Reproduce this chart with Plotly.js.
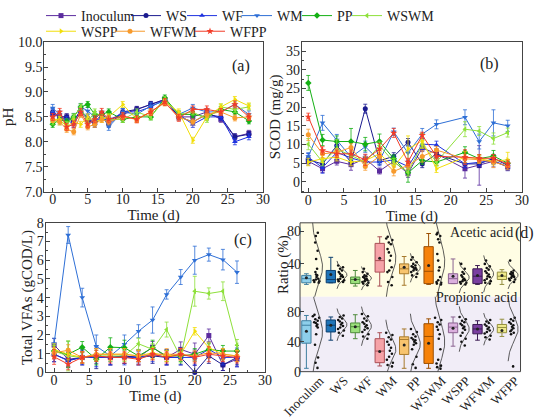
<!DOCTYPE html>
<html><head><meta charset="utf-8">
<script src="https://cdn.plot.ly/plotly-3.0.1.min.js"></script>
<style>html,body{margin:0;padding:0;background:#fff}#chart{width:550px;height:419px}</style>
</head><body><div id="chart"></div>
<script>
const seriesNames = ['Inoculum','WS','WF','WM','PP','WSWM','WSPP','WFWM','WFPP'];
const seriesColors = ['#5B2C9E','#1B1B8F','#1E32E0','#2E6FD6','#14B014','#8EE03A','#F2DE0A','#F79A2C','#F23C28'];
const seriesSymbols = ['square','circle','triangle-up','triangle-down','diamond','triangle-left','triangle-right','circle','star'];

// (a) pH
const phTime = [0,1,2,3,4,5,6,7,8,10,12,14,16,18,20,22,24,26,28];
const phInoculum = [8.55,8.5,8.5,8.45,8.6,8.45,8.4,8.55,8.45,8.55,8.65,8.75,8.85,8.5,8.5,8.6,8.45,8.1,8.17];
const phWS       = [8.6,8.5,8.5,8.4,8.65,8.45,8.35,8.5,8.35,8.6,8.65,8.75,8.85,8.5,8.4,8.55,8.5,8.1,8.15];
const phWF       = [8.6,8.5,8.45,8.35,8.6,8.5,8.4,8.5,8.4,8.6,8.6,8.7,8.85,8.55,8.35,8.5,8.5,8.0,8.1];
const phWM       = [8.68,8.55,8.4,8.5,8.7,8.62,8.5,8.55,8.3,8.6,8.55,8.72,8.82,8.55,8.68,8.6,8.6,8.75,8.55];
const phPP       = [8.35,8.45,8.4,8.5,8.7,8.75,8.55,8.55,8.6,8.45,8.5,8.5,8.88,8.55,8.55,8.5,8.65,8.6,8.42];
const phWSWM     = [8.4,8.4,8.35,8.5,8.7,8.4,8.6,8.5,8.45,8.45,8.6,8.5,8.85,8.55,8.6,8.45,8.7,8.65,8.7];
const phWSPP     = [8.45,8.45,8.3,8.4,8.35,8.5,8.4,8.45,8.5,8.75,8.45,8.6,8.8,8.6,8.03,8.5,8.7,8.85,8.72];
const phWFWM     = [8.45,8.4,8.25,8.2,8.55,8.3,8.35,8.45,8.4,8.5,8.45,8.6,8.78,8.5,8.4,8.55,8.6,8.48,8.5];
const phWFPP     = [8.5,8.6,8.3,8.35,8.6,8.35,8.45,8.6,8.45,8.52,8.45,8.6,8.8,8.48,8.65,8.65,8.6,8.75,8.5];
const phErr      = [0.06,0.06,0.06,0.07,0.06,0.06,0.06,0.06,0.07];

// (b) SCOD
const scodTime = [0,2,4,6,8,10,12,14,16,18,22,24,26,28];
const scodInoculum = [5.5,3.5,5.5,4.6,6.2,2.9,5.5,2.2,9.1,7.5,3.5,4.4,5.5,4.0];
const scodWS       = [5.9,4.8,9.7,5.3,19.6,5.7,6.8,10.6,4.8,7.5,4.8,4.8,6.3,4.4];
const scodWF       = [6.6,3.8,7.9,6.4,5.3,5.3,5.9,4.1,10.1,9.9,4.8,5.3,5.7,4.0];
const scodWM       = [6.8,15.8,11.2,6.6,9.4,5.7,13.4,7.7,12.8,15.4,17.3,10.8,15.8,15.0];
const scodPP       = [26.5,11.2,10.8,10.8,10.1,10.8,6.2,2.4,5.7,5.3,7.9,6.2,6.9,5.0];
const scodWSWM     = [10.1,5.3,8.8,7.0,5.3,9.7,5.3,2.6,10.1,5.3,14.1,13.6,11.6,13.2];
const scodWSPP     = [5.3,6.2,6.6,5.3,5.7,7.5,4.0,8.8,11.0,3.5,6.6,6.2,5.5,5.9];
const scodWFWM     = [12.6,7.5,7.9,9.2,4.1,6.8,2.8,4.4,6.8,8.5,6.2,5.9,5.3,4.2];
const scodWFPP     = [17.4,8.4,7.5,7.5,5.9,8.8,13.1,5.3,12.5,6.8,6.6,6.3,6.3,4.8];
const scodErrInoculum = [1.0,1.0,1.0,1.5,1.0,0.8,1.0,1.0,1.0,1.0,2.5,5.3,1.5,1.0];
const scodErrWS       = [1.0,1.0,1.0,1.0,1.2,1.0,1.0,1.0,1.0,1.0,1.0,1.0,1.0,1.0];
const scodErrWF       = [1.0,1.5,1.0,1.0,1.0,1.0,1.0,1.0,1.5,1.0,1.0,1.0,1.0,1.0];
const scodErrWM       = [1.0,2.0,1.5,1.0,1.5,1.0,1.0,2.0,1.5,1.2,2.0,2.0,3.5,1.5];
const scodErrPP       = [2.0,1.5,1.5,3.5,1.8,2.0,1.0,2.5,1.0,1.0,1.5,1.0,1.5,1.0];
const scodErrWSWM     = [1.5,1.0,2.5,1.0,1.0,1.0,1.0,1.0,1.0,1.0,2.0,1.2,1.5,1.2];
const scodErrWSPP     = [1.0,1.0,1.0,1.0,1.0,1.0,1.0,3.5,2.0,1.0,1.5,1.0,1.0,2.0];
const scodErrWFWM     = [1.5,1.0,1.0,1.0,1.0,1.0,1.2,1.0,1.5,1.0,1.0,1.0,1.5,1.0];
const scodErrWFPP     = [1.0,1.0,1.0,1.0,1.5,1.5,1.2,1.0,0.8,1.0,2.0,1.0,1.0,1.0];

// (c) Total VFAs
const vfaTime = [0,2,4,6,8,10,12,14,16,18,20,22,24,26];
const vfaInoculum = [1.46,0.7,0.8,0.88,0.8,0.88,0.8,1.35,0.8,1.23,0.97,1.97,0.4,0.7];
const vfaWS       = [0.97,0.65,0.8,0.8,0.8,0.88,0.8,0.88,0.8,0.8,0.0,0.88,0.4,0.8];
const vfaWF       = [0.97,0.62,0.8,0.8,0.8,0.8,0.8,0.97,0.8,0.8,0.8,1.23,0.8,0.8];
const vfaWM       = [1.53,7.35,4.0,1.4,0.88,1.5,2.2,2.8,4.17,5.1,6.0,6.3,6.03,5.36];
const vfaPP       = [1.14,0.97,1.35,0.7,1.35,1.32,0.88,1.32,0.88,0.88,0.97,1.23,1.14,1.14];
const vfaWSWM     = [1.14,0.88,0.8,0.88,0.88,0.88,1.53,1.23,2.29,0.8,4.34,4.22,4.34,1.46];
const vfaWSPP     = [1.23,0.97,0.8,0.97,0.97,0.97,0.88,1.05,0.88,0.97,2.2,1.32,0.97,0.88];
const vfaWFWM     = [1.05,1.18,0.8,0.97,0.97,0.97,0.88,0.97,0.97,0.97,0.88,1.05,0.97,0.88];
const vfaWFPP     = [0.83,0.44,0.8,0.88,0.8,0.8,0.7,0.97,0.8,0.97,0.8,0.97,0.88,0.8];
const vfaErrInoculum = [0.35,0.3,0.3,0.4,0.4,0.4,0.3,0.3,0.4,0.4,0.6,0.35,0.3,0.4];
const vfaErrWS       = [0.4,0.4,0.4,0.6,0.4,0.4,0.4,0.4,0.4,0.4,0.6,0.4,0.3,0.4];
const vfaErrWF       = [0.4,0.3,0.4,0.5,0.4,0.4,0.4,0.4,0.4,0.4,0.4,0.4,0.4,0.5];
const vfaErrWM       = [0.3,0.45,0.5,0.6,0.3,0.5,0.35,0.7,0.25,0.4,0.75,0.35,0.55,0.6];
const vfaErrPP       = [0.3,0.7,0.3,0.3,0.5,0.4,0.3,0.4,0.3,0.3,0.3,0.3,0.3,0.3];
const vfaErrWSWM     = [0.3,0.8,0.3,0.3,0.3,0.3,0.3,0.3,0.4,0.3,0.8,0.3,0.5,0.3];
const vfaErrWSPP     = [0.3,0.3,0.3,0.3,0.3,0.3,0.3,0.3,0.3,0.3,0.2,0.3,0.3,0.3];
const vfaErrWFWM     = [0.3,0.3,0.3,0.3,0.3,0.3,0.3,0.3,0.3,0.3,0.3,0.3,0.3,0.3];
const vfaErrWFPP     = [0.4,0.3,0.3,0.3,0.3,0.3,0.3,0.3,0.3,0.3,0.3,0.4,0.3,0.3];

// (d) acid ratios (%)
const categories = ['Inoculum','WS','WF','WM','PP','WSWM','WSPP','WFWM','WFPP'];
const acetQ1     = [17,17,16,30,28,16,16,16,21];
const acetMedian = [22,21,21,44,34,31,22,25,25];
const acetQ3     = [26,32,24,65,40,61,28,34,30];
const acetLow    = [15,17,13,13,14,15,16,15,15];
const acetHigh   = [28,48,32,73,49,77,46,38,33];
const acetMean   = [23,27,21,47,36,38,25,26,26];
const propQ1     = [38,53,52,12,23,11,52,50.5,52];
const propMedian = [62,62,60,27.5,43,47,59.5,57,59];
const propQ3     = [68,69,65,44,46.5,64,65,63,63];
const propLow    = [4.5,42,44,7.6,4.5,4.5,34,42,47];
const propHigh   = [75,73,76,52,57,70.5,73,68,70];
const propMean   = [54,62,60,27,35.5,38,58,57,55];
const acetPtsInoculum = [78,74,66,56,46,34,30,27,26,24,22,21,20,19,18,17];
const acetPtsWS       = [38,36,34,32,30,28,26,25,24,22,21,20,19,18];
const acetPtsWF       = [34,30,28,26,25,24,23,22,21,20,19,18,17,16,14];
const acetPtsWM       = [73,71,69,66,64,58,54,50,44,36,32,30,24,18,14];
const acetPtsPP       = [48,45,42,40,38,37,36,35,34,33,32,30,28,26,24];
const acetPtsWSWM     = [78,76,74,70,66,52,44,36,32,24,20,18,17,16,15];
const acetPtsWSPP     = [40,34,30,28,26,24,22,21,20,19,18,17,16,15];
const acetPtsWFWM     = [44,40,37,35,33,31,29,27,25,24,22,20,19,17,16];
const acetPtsWFPP     = [44,32,30,29,28,27,26,25,24,23,22,21,20,18];
const propPtsInoculum = [76,74,72,70,68,66,65,63,61,59,50,36,19,12,5];
const propPtsWS       = [75,73,71,69,67,65,63,61,59,57,55,52,48];
const propPtsWF       = [77,74,71,68,66,64,62,60,58,56,53,50,47,44];
const propPtsWM       = [52,49,46,43,40,36,32,28,24,20,16,12,9,7];
const propPtsPP       = [57,53,50,47,45,43,42,40,38,36,30,20,10,5];
const propPtsWSWM     = [72,69,66,63,60,56,50,44,30,16,11,8,6,4];
const propPtsWSPP     = [73,70,68,66,64,62,60,58,56,52,48,44,40,35];
const propPtsWFWM     = [69,67,65,63,61,59,57,55,53,51,48,46,43];
const propPtsWFPP     = [72,70,68,66,64,62,60,58,56,54,52,50,7];

const boxFill = ['#8ECFEA','#1F74B8','#9BE07C','#F6A3A8','#F8C46E','#F6820A','#DBB0DE','#7A3FA0','#EFEA8C'];
const boxLine = ['#3F7FA0','#0D3F6E','#4E8B3C','#A94F55','#A77A2C','#9C4E00','#8B6391','#3A1A52','#959040'];

// legend entry placement (text start x in px, row centre y in px)
const legendTextX = [83,168,224,279,339,389,83,152,232];
const legendRowY  = [10,10,10,10,10,10,26,26,26];

const FONT = 'Liberation Serif';
const phData = [phInoculum,phWS,phWF,phWM,phPP,phWSWM,phWSPP,phWFWM,phWFPP];
const scodData = [scodInoculum,scodWS,scodWF,scodWM,scodPP,scodWSWM,scodWSPP,scodWFWM,scodWFPP];
const scodErr = [scodErrInoculum,scodErrWS,scodErrWF,scodErrWM,scodErrPP,scodErrWSWM,scodErrWSPP,scodErrWFWM,scodErrWFPP];
const vfaData = [vfaInoculum,vfaWS,vfaWF,vfaWM,vfaPP,vfaWSWM,vfaWSPP,vfaWFWM,vfaWFPP];
const vfaErr = [vfaErrInoculum,vfaErrWS,vfaErrWF,vfaErrWM,vfaErrPP,vfaErrWSWM,vfaErrWSPP,vfaErrWFWM,vfaErrWFPP];
const acetPts = [acetPtsInoculum,acetPtsWS,acetPtsWF,acetPtsWM,acetPtsPP,acetPtsWSWM,acetPtsWSPP,acetPtsWFWM,acetPtsWFPP];
const propPts = [propPtsInoculum,propPtsWS,propPtsWF,propPtsWM,propPtsPP,propPtsWSWM,propPtsWSPP,propPtsWFWM,propPtsWFPP];

const legName = i => i === 0 ? 'legend' : 'legend' + (i + 1);
const traces = [];
function tsTrace(i, xs, ys, err, xa, ya, showLeg) {
  const e = Array.isArray(err) ? {type:'data', array: err} : {type:'constant', value: err};
  return {
    type:'scatter', mode:'lines+markers', x: xs, y: ys, name: seriesNames[i],
    xaxis: xa, yaxis: ya, showlegend: showLeg, legend: legName(i),
    line: {color: seriesColors[i], width: 1},
    marker: {color: seriesColors[i], symbol: seriesSymbols[i], size: seriesSymbols[i]==='star' ? 5.5 : 5},
    error_y: Object.assign(e, {visible:true, color: seriesColors[i], thickness: 0.8, width: 2}),
    cliponaxis: false
  };
}
for (let i = 0; i < 9; i++) traces.push(tsTrace(i, phTime, phData[i], phErr[i], 'x', 'y', true));
for (let i = 0; i < 9; i++) traces.push(tsTrace(i, scodTime, scodData[i], scodErr[i], 'x2', 'y2', false));
for (let i = 0; i < 9; i++) traces.push(tsTrace(i, vfaTime, vfaData[i], vfaErr[i], 'x3', 'y3', false));

function addGroup(ya, q1, med, q3, lo, hi, mn, pts, top) {
  for (let i = 0; i < categories.length; i++) {
    traces.push({type:'box', xaxis:'x4', yaxis: ya, x:[i], q1:[q1[i]], median:[med[i]], q3:[q3[i]],
      lowerfence:[lo[i]], upperfence:[hi[i]], width: 0.38, whiskerwidth: 0.5,
      fillcolor: boxFill[i], line:{color: boxLine[i], width: 1}, boxpoints: false, showlegend:false, hoverinfo:'skip'});
    traces.push({type:'scatter', mode:'markers', xaxis:'x4', yaxis: ya, x:[i], y:[mn[i]],
      marker:{size:3, color:'#222'}, showlegend:false, hoverinfo:'skip'});
    const p = pts[i];
    traces.push({type:'box', xaxis:'x4', yaxis: ya, x: p.map(() => i + 0.42), y: p, width: 0.32,
      boxpoints:'all', jitter: 1, pointpos: 0, fillcolor:'rgba(0,0,0,0)', line:{width:0, color:'rgba(0,0,0,0)'},
      marker:{size:2.6, color:'#111'}, showlegend:false, hoverinfo:'skip'});
    const m = p.reduce((a,b)=>a+b,0)/p.length;
    const s = Math.sqrt(p.reduce((a,b)=>a+(b-m)*(b-m),0)/(p.length-1));
    const ys = [], xs = [];
    const y0 = Math.max(-2, m - 2.6*s), y1 = Math.min(top + 2, m + 2.6*s);
    for (let k = 0; k <= 80; k++) {
      const y = y0 + (y1 - y0) * k / 80;
      ys.push(y); xs.push(i + 0.24 + 0.42 * Math.exp(-0.5 * ((y - m)/s) ** 2));
    }
    traces.push({type:'scatter', mode:'lines', xaxis:'x4', yaxis: ya, x: xs, y: ys,
      line:{color:'#333', width:0.8}, showlegend:false, hoverinfo:'skip'});
  }
}
addGroup('y4', acetQ1, acetMedian, acetQ3, acetLow, acetHigh, acetMean, acetPts, 90);
addGroup('y5', propQ1, propMedian, propQ3, propLow, propHigh, propMean, propPts, 100);

const axBase = {showline:true, mirror:true, linecolor:'#444', linewidth:1, ticks:'inside', ticklen:4, tickwidth:1,
  tickcolor:'#444', showgrid:false, zeroline:false, tickfont:{family:FONT, size:14, color:'#222'}};
const xT = (dom, anchor, range) => Object.assign({}, axBase, {domain: dom, anchor: anchor, range: range, dtick: 5, tick0: 0,
  ticklabelstandoff: -5,
  minor:{ticks:'inside', ticklen:2, dtick:2.5, tickcolor:'#444'},
  title:{text:'Time (d)', font:{family:FONT, size:15, color:'#222'}, standoff: 0}});
const yT = (dom, anchor, range, dtick, title, fmt, so) => Object.assign({}, axBase, {domain: dom, anchor: anchor, range: range, dtick: dtick,
  tickformat: fmt, ticklabelstandoff: -2, minor:{ticks:'inside', ticklen:2, dtick: dtick/2, tickcolor:'#444'},
  title:{text: title, font:{family:FONT, size:15, color:'#222'}, standoff: so}});

const dX = [0.5455, 0.9464];
const layout = {
  width:550, height:419, margin:{l:0, r:0, t:0, b:0}, paper_bgcolor:'#fff', plot_bgcolor:'rgba(0,0,0,0)',
  font:{family:FONT, size:14, color:'#222'},
  showlegend:true,
  xaxis: xT([0.0805, 0.478], 'y', [-1.2, 30]),
  yaxis: yT([0.5506, 0.9124], 'x', [7, 10], 0.5, 'pH', '.1f', 4),
  xaxis2: xT([0.5485, 0.949], 'y2', [-0.93, 30]),
  yaxis2: yT([0.549, 0.914], 'x2', [-2.8, 37.6], 5, 'SCOD (mg/g)', '', 1),
  xaxis3: xT([0.083, 0.482], 'y3', [-1.2, 30]),
  yaxis3: yT([0.1129, 0.475], 'x3', [0, 8], 1, 'Total VFAs (gCOD/L)', '', 0),
  xaxis4: {domain: dX, anchor:'y5', range:[-0.26, 8.76], showline:false, showgrid:false, zeroline:false,
    tickvals: categories.map((c,i)=>i+0.55), ticktext: categories, tickangle:-45, ticks:'', ticklabelstandoff:-2,
    tickfont:{family:FONT, size:13, color:'#222'}},
  yaxis4: {domain:[0.296, 0.475], anchor:'x4', range:[0, 90], tickvals:[40,80], showline:false, showgrid:false, zeroline:false,
    ticks:'inside', ticklen:4, tickcolor:'#444', ticklabelstandoff:-2, tickfont:{family:FONT, size:14, color:'#222'}},
  yaxis5: {domain:[0.1146, 0.296], anchor:'x4', range:[0, 100], tickvals:[0,40,80], showline:false, showgrid:false, zeroline:false,
    ticks:'inside', ticklen:4, tickcolor:'#444', ticklabelstandoff:-2, tickfont:{family:FONT, size:14, color:'#222'}},
  shapes:[
    {type:'rect', xref:'paper', yref:'paper', x0:dX[0], x1:dX[1], y0:0.296, y1:0.475, fillcolor:'#FFFDE4', line:{width:0}, layer:'below'},
    {type:'rect', xref:'paper', yref:'paper', x0:dX[0], x1:dX[1], y0:0.1146, y1:0.296, fillcolor:'#F1EDF7', line:{width:0}, layer:'below'},
    {type:'rect', xref:'paper', yref:'paper', x0:dX[0], x1:dX[1], y0:0.1146, y1:0.475, fillcolor:'rgba(0,0,0,0)', line:{width:1, color:'#444'}, layer:'above'}
  ],
  annotations:[
    {text:'(a)', xref:'paper', yref:'paper', x:0.438, y:0.881, showarrow:false, font:{family:FONT, size:16, color:'#222'}},
    {text:'(b)', xref:'paper', yref:'paper', x:0.911, y:0.885, showarrow:false, font:{family:FONT, size:16, color:'#222'}},
    {text:'(c)', xref:'paper', yref:'paper', x:0.442, y:0.434, showarrow:false, font:{family:FONT, size:16, color:'#222'}},
    {text:'(d)', xref:'paper', yref:'paper', x:0.975, y:0.451, showarrow:false, font:{family:FONT, size:16, color:'#222'}},
    {text:'Acetic acid', xref:'paper', yref:'paper', x:0.936, y:0.452, xanchor:'right', showarrow:false, font:{family:FONT, size:14, color:'#222'}},
    {text:'Propionic acid', xref:'paper', yref:'paper', x:0.944, y:0.272, xanchor:'right', showarrow:false, font:{family:FONT, size:14, color:'#222'}},
    {text:'Ratio (%)', xref:'paper', yref:'paper', x:0.5145, y:0.375, textangle:-90, showarrow:false, font:{family:FONT, size:15, color:'#222'}}
  ]
};
for (let i = 0; i < 9; i++) {
  layout[legName(i)] = {orientation:'h', x:(legendTextX[i] - 42) / 550, y: 1 - legendRowY[i] / 419,
    xanchor:'left', yanchor:'middle', font:{family:FONT, size:14, color:'#222'},
    bgcolor:'rgba(0,0,0,0)', borderwidth:0, itemwidth:30};
}
Plotly.newPlot('chart', traces, layout, {staticPlot:true, displayModeBar:false});
</script></body></html>
